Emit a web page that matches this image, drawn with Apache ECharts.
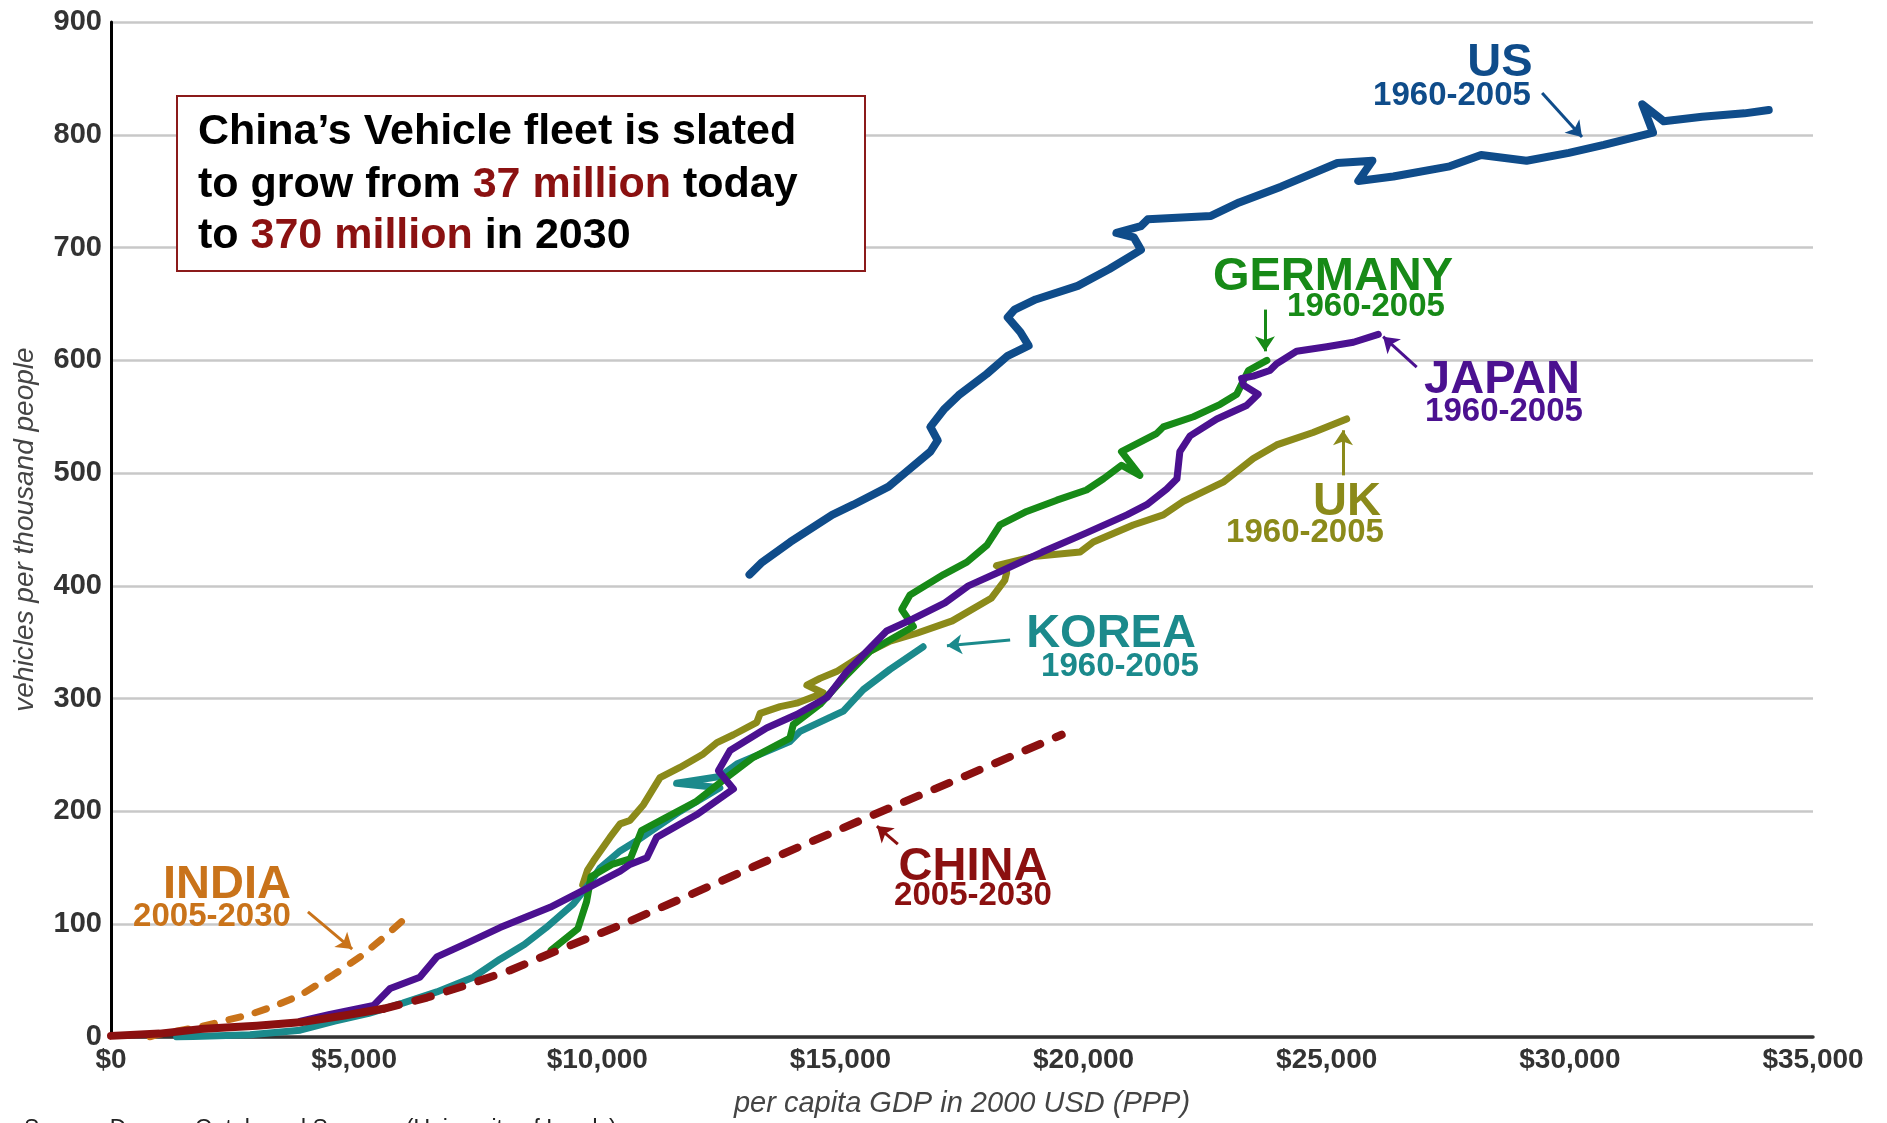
<!DOCTYPE html>
<html>
<head>
<meta charset="utf-8">
<title>Vehicles per thousand people vs GDP</title>
<script src="https://cdn.jsdelivr.net/npm/echarts@6/dist/echarts.min.js"></script>
<style>
  html, body { margin: 0; padding: 0; background: #fff; }
  #chart { width: 1887px; height: 1123px; }
</style>
</head>
<body>
<div id="chart"></div>
<script>
// [per capita GDP (2000 USD PPP), vehicles per thousand people]
const usData = [[13130,410],[13390,421],[13970,439],[14830,463],[15265,472],[15990,488],[16350,501],[16850,519],[17000,529],[16850,541],[17140,557],[17430,569],[18010,588],[18440,604],[18870,613],[18700,625],[18440,638],[18580,645],[19015,654],[19880,666],[20530,681],[21180,698],[21035,709],[20675,713],[21180,719],[21320,725],[22620,728],[23200,740],[24060,754],[25220,775],[25940,777],[25650,759],[26370,763],[27530,772],[28175,782],[29110,777],[29980,784],[30700,791],[31710,802],[31490,827],[31930,812],[32720,816],[33590,819],[34090,822]];
const germanyData = [[9050,77],[9600,96],[9780,120],[9870,142],[10300,153],[10680,158],[10910,183],[11430,195],[12040,209],[12660,230],[13210,248],[13960,265],[14030,277],[14580,295],[15130,321],[15610,342],[16500,364],[16260,379],[16430,392],[17120,410],[17600,421],[18010,436],[18280,454],[18830,466],[19450,476],[20060,485],[20410,495],[20780,507],[21160,498],[20780,519],[21500,535],[21640,541],[22260,550],[22810,561],[23150,570],[23390,591],[23770,600]];
const japanData = [[3900,14],[4500,20],[5400,28],[5740,43],[6350,53],[6700,71],[7310,83],[8000,97],[9030,115],[9710,130],[10470,147],[10670,153],[11020,159],[11220,177],[12040,197],[12800,220],[12490,236],[12730,254],[13480,274],[14100,286],[14720,301],[15130,324],[15950,360],[16500,371],[17150,385],[17630,400],[18300,413],[19150,430],[20060,447],[20890,463],[21300,472],[21710,486],[21920,495],[21980,519],[22190,533],[22740,548],[23350,560],[23590,570],[23290,578],[23250,584],[23490,586],[23830,591],[23970,597],[24380,608],[25000,612],[25550,616],[26060,623]];
const ukData = [[9700,135],[9800,148],[9920,156],[10260,177],[10470,189],[10670,192],[10950,206],[11290,230],[11700,239],[12180,251],[12460,261],[12800,268],[13280,279],[13350,287],[13760,293],[14100,296],[14650,305],[14310,312],[14580,318],[14920,324],[15470,339],[16020,351],[16570,358],[17300,369],[18100,389],[18380,405],[18420,412],[18210,418],[18970,426],[19930,430],[20200,439],[21020,454],[21640,463],[22050,475],[22870,492],[23490,513],[23970,525],[24720,536],[25410,548]];
const koreaData = [[1350,0],[2200,1],[2860,2],[3890,6],[4600,14],[5300,21],[6000,30],[6700,40],[7450,53],[8000,69],[8500,82],[8950,97],[9510,118],[9870,138],[10060,150],[10470,165],[10810,174],[11700,200],[12520,221],[11630,225],[12520,231],[12870,242],[13960,262],[14170,271],[15060,289],[15470,308],[16020,326],[16700,346]];
const chinaEarly = [[0,1],[1000,3],[1830,7],[3000,10],[3890,13],[4800,19],[5600,25]];
const chinaProjected = [[5600,25],[6500,35],[7310,46],[8200,59],[9030,74],[10470,99],[11800,124],[13210,151],[15680,197],[17600,232],[19550,268]];
const indiaProjected = [[800,0],[940,2],[1830,9],[2860,20],[3340,27],[3890,37],[4570,55],[5120,71],[5600,88],[6150,109]];

const xTickLabels = ["$0", "$5,000", "$10,000", "$15,000", "$20,000", "$25,000", "$30,000", "$35,000"];
const yTicks = [0, 100, 200, 300, 400, 500, 600, 700, 800, 900];

const C = {
  us: "#0f4c8a",
  germany: "#178a17",
  japan: "#4b1190",
  uk: "#8b8a1a",
  korea: "#1b8a8c",
  china: "#8b1010",
  india: "#c9731a"
};

const FONT = "Liberation Sans, Arial, sans-serif";

function lineSeries(name, data, color, width, dash) {
  return {
    name: name,
    type: "line",
    data: data,
    showSymbol: false,
    symbol: "none",
    smooth: false,
    silent: true,
    lineStyle: {
      color: color,
      width: width,
      type: dash || "solid",
      cap: "round",
      join: "round"
    }
  };
}

// arrows pointing from label to curve, in data coordinates
function arrow(color, from, to) {
  return {
    silent: true,
    symbol: ["none", "arrow"],
    symbolSize: 15,
    label: {show: false},
    itemStyle: {color: color},
    lineStyle: {color: color, width: 3, type: "solid"},
    emphasis: {disabled: true},
    data: [[{coord: from}, {coord: to}]]
  };
}

function label(text, x, y, color, size) {
  return {
    type: "text",
    x: x,
    y: y,
    z: 100,
    silent: true,
    style: {
      text: text,
      fill: color,
      font: "bold " + size + "px " + FONT,
      textAlign: "center",
      textVerticalAlign: "middle",
      align: "center",
      verticalAlign: "middle"
    }
  };
}

function boxLine(text, y) {
  return {
    type: "text",
    x: 198,
    y: y,
    z: 101,
    silent: true,
    style: {
      text: text,
      font: "bold 43px " + FONT,
      fill: "#000",
      textVerticalAlign: "middle",
      verticalAlign: "middle",
      rich: {
        b: {fontFamily: FONT, fontWeight: "bold", fontSize: 43, fill: "#000", color: "#000"},
        r: {fontFamily: FONT, fontWeight: "bold", fontSize: 43, fill: "#8b1111", color: "#8b1111"}
      }
    }
  };
}

const chart = echarts.init(document.getElementById("chart"));

const series = [
  lineSeries("US", usData, C.us, 8),
  lineSeries("UK", ukData, C.uk, 7),
  lineSeries("Korea", koreaData, C.korea, 7),
  lineSeries("Germany", germanyData, C.germany, 7),
  lineSeries("Japan", japanData, C.japan, 7),
  lineSeries("India", indiaProjected, C.india, 7, [12, 15]),
  lineSeries("China", chinaEarly, C.china, 8),
  lineSeries("China projected", chinaProjected, C.china, 8, [16, 17])
];
series[0].markLine = arrow(C.us, [29430, 837], [30250, 798]);
series[1].markLine = arrow(C.uk, [25335, 498], [25335, 538]);
series[2].markLine = arrow(C.korea, [18490, 352], [17190, 347]);
series[3].markLine = arrow(C.germany, [23730, 645], [23730, 608]);
series[4].markLine = arrow(C.japan, [26850, 594], [26160, 621]);
series[5].markLine = arrow(C.india, [4050, 111], [4960, 78]);
series[7].markLine = arrow(C.china, [16180, 171], [15750, 187]);

chart.setOption({
  animation: false,
  backgroundColor: "#fff",
  grid: {
    left: 111,
    right: 74,
    top: 22,
    bottom: 83,
    containLabel: false
  },
  xAxis: {
    type: "value",
    min: 0,
    max: 35000,
    interval: 5000,
    name: "per capita GDP in 2000 USD (PPP)",
    nameLocation: "middle",
    nameGap: 52,
    nameTextStyle: {fontFamily: FONT, fontStyle: "italic", fontSize: 29, color: "#444"},
    axisLine: {show: true, onZero: false, lineStyle: {color: "#333", width: 3.5}},
    axisTick: {show: false},
    splitLine: {show: false},
    axisLabel: {
      fontFamily: FONT,
      fontWeight: "bold",
      fontSize: 28,
      color: "#333",
      margin: 9,
      showMaxLabel: true,
      showMinLabel: true,
      formatter: v => xTickLabels[Math.round(v / 5000)]
    }
  },
  yAxis: {
    type: "value",
    min: yTicks[0],
    max: yTicks[yTicks.length - 1],
    interval: 100,
    name: "vehicles per thousand people",
    nameLocation: "middle",
    nameGap: 72,
    nameTextStyle: {fontFamily: FONT, fontStyle: "italic", fontSize: 28, color: "#444"},
    axisLine: {show: true, lineStyle: {color: "#000", width: 3}},
    axisTick: {show: false},
    splitLine: {show: true, lineStyle: {color: "#c8c8c8", width: 2.5}},
    axisLabel: {fontFamily: FONT, fontWeight: "bold", fontSize: 29, color: "#333", margin: 9}
  },
  series: series,
  graphic: [
    {
      type: "rect",
      z: 99,
      silent: true,
      shape: {x: 177, y: 96, width: 688, height: 175},
      style: {fill: "#fff", stroke: "#8b1a1a", lineWidth: 2}
    },
    boxLine("{b|China\u2019s Vehicle fleet is slated}", 132),
    boxLine("{b|to grow from }{r|37 million}{b| today}", 185),
    boxLine("{b|to }{r|370 million}{b| in 2030}", 236),

    label("US", 1500, 63, C.us, 47),
    label("1960-2005", 1452, 96, C.us, 33),
    label("GERMANY", 1333, 277, C.germany, 47),
    label("1960-2005", 1366, 307, C.germany, 33),
    label("JAPAN", 1502, 380, C.japan, 47),
    label("1960-2005", 1504, 412, C.japan, 33),
    label("UK", 1347, 502, C.uk, 47),
    label("1960-2005", 1305, 533, C.uk, 33),
    label("KOREA", 1111, 634, C.korea, 47),
    label("1960-2005", 1120, 667, C.korea, 33),
    label("CHINA", 973, 867, C.china, 47),
    label("2005-2030", 973, 896, C.china, 33),
    label("INDIA", 227, 885, C.india, 47),
    label("2005-2030", 212, 917, C.india, 33),

    {
      type: "text",
      x: 24,
      y: 1118,
      silent: true,
      style: {
        text: "Source: Dargay, Gately and Sommer (University of Leeds)",
        font: "23px " + FONT,
        fill: "#222",
        textVerticalAlign: "top",
        verticalAlign: "top"
      }
    }
  ]
});
</script>
</body>
</html>
